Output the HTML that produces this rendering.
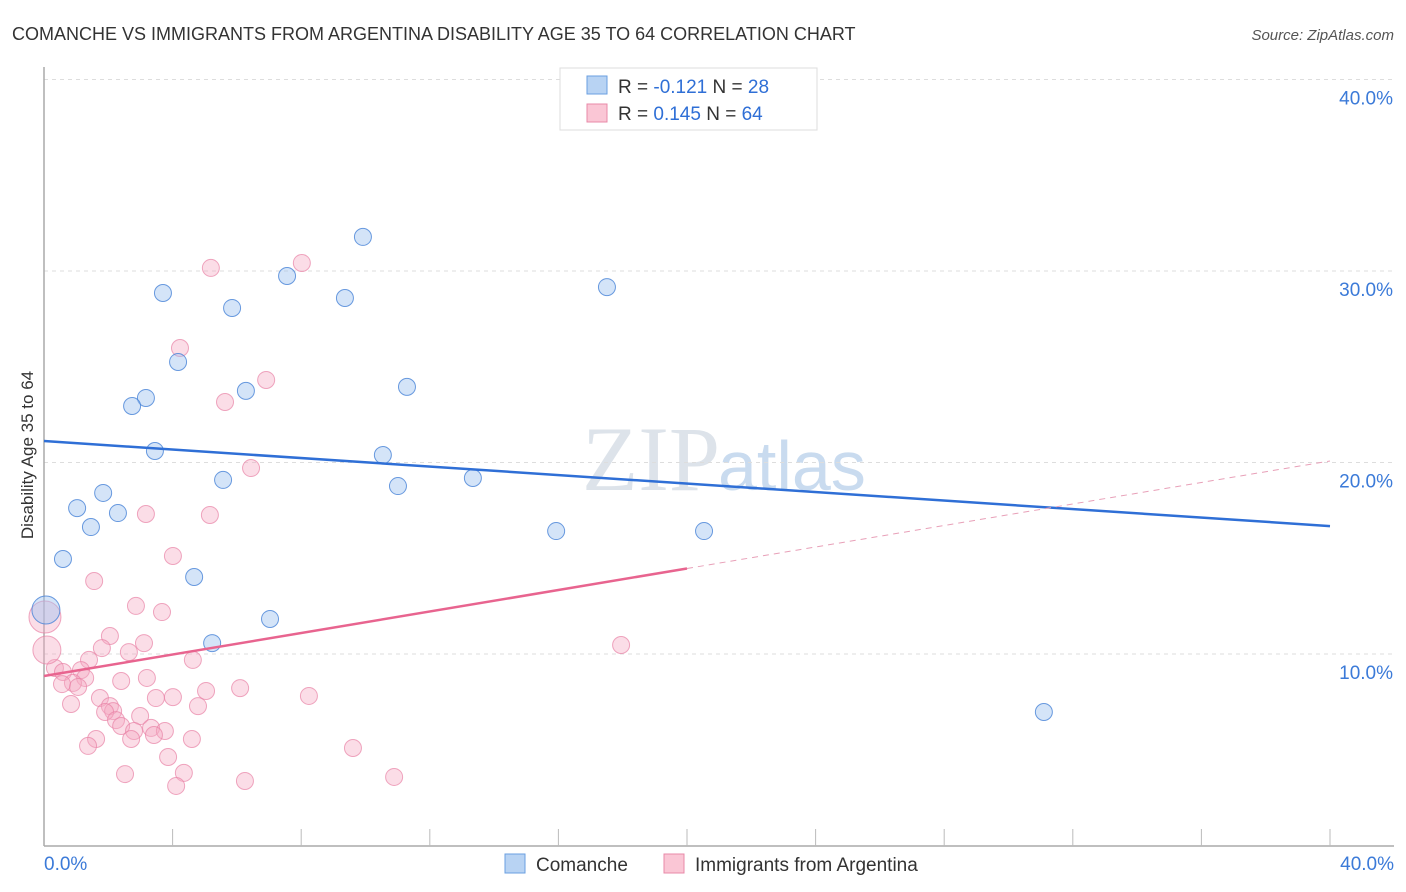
<!DOCTYPE html>
<html><head><meta charset="utf-8"><style>
body{margin:0;background:#fff;font-family:"Liberation Sans",sans-serif}
svg{display:block}
</style></head><body>
<svg id="c" width="1406" height="892" xmlns="http://www.w3.org/2000/svg">
<text x="12" y="40" font-size="18" fill="#333">COMANCHE VS IMMIGRANTS FROM ARGENTINA DISABILITY AGE 35 TO 64 CORRELATION CHART</text>
<text x="1394" y="40" font-size="15" fill="#555" font-style="italic" text-anchor="end">Source: ZipAtlas.com</text>
<text x="720" y="490" font-size="92" fill="#dde3ea" text-anchor="end" font-family="Liberation Serif">ZIP</text>
<text x="718" y="490" font-size="70" fill="#c9dbef">atlas</text>
<text x="33" y="455" font-size="17" fill="#333" text-anchor="middle" transform="rotate(-90 33 455)">Disability Age 35 to 64</text>
<g id="grid"></g><g id="axes"></g><g id="pts"></g><g id="lines"></g>
<g>
<rect x="560" y="68" width="257" height="62" fill="#fff" stroke="#ddd"/>
<rect x="587" y="76" width="20" height="18" fill="#b8d3f3" stroke="#6a9fe0"/>
<rect x="587" y="104" width="20" height="18" fill="#fac6d5" stroke="#e889a8"/>
<text x="618" y="93" font-size="19" fill="#333">R = <tspan fill="#2f6fd6">-0.121</tspan>   N = <tspan fill="#2f6fd6">28</tspan></text>
<text x="618" y="120" font-size="19" fill="#333">R =  <tspan fill="#2f6fd6">0.145</tspan>   N = <tspan fill="#2f6fd6">64</tspan></text>
</g>
<g>
<rect x="505" y="854" width="20" height="19" fill="#b8d3f3" stroke="#6a9fe0"/>
<text x="536" y="871" font-size="19" fill="#333">Comanche</text>
<rect x="664" y="854" width="20" height="19" fill="#fac6d5" stroke="#e889a8"/>
<text x="695" y="871" font-size="19" fill="#333">Immigrants from Argentina</text>
</g>
</svg>
<script>
const blueX=[9.92,17.51,7.56,3.70,9.36,5.85,4.17,6.28,11.29,3.17,2.74,3.45,10.54,5.57,11.01,13.34,1.84,1.03,2.30,1.46,15.93,20.53,0.59,4.67,7.03,5.23,31.10,0.06];
const blueY=[31.78,29.16,29.74,28.85,28.59,28.07,25.25,23.74,23.95,23.37,22.95,20.60,20.39,19.09,18.77,19.19,18.41,17.62,17.36,16.63,16.42,16.42,14.96,14.02,11.83,10.57,6.97,12.30];
const pinkX=[5.19,8.02,4.23,6.91,5.63,6.44,3.17,5.16,4.01,1.56,2.86,3.67,2.05,3.11,1.80,2.64,4.63,1.40,0.34,0.59,1.15,1.28,0.90,0.56,1.06,2.40,3.20,5.04,6.10,8.24,3.48,4.01,1.74,0.84,4.79,2.05,2.15,1.90,2.99,2.24,2.40,3.33,3.76,2.80,3.42,4.60,2.71,1.62,1.37,9.61,3.86,2.52,4.35,6.25,4.11,10.89,17.95,0.09,0.03];
const pinkY=[30.16,30.42,25.98,24.31,23.16,19.71,17.31,17.26,15.12,13.81,12.51,12.19,10.94,10.57,10.31,10.10,9.69,9.69,9.27,9.06,9.16,8.75,8.49,8.43,8.28,8.59,8.75,8.07,8.22,7.81,7.70,7.75,7.70,7.39,7.28,7.28,7.02,6.97,6.76,6.55,6.24,6.14,5.98,5.98,5.77,5.56,5.56,5.56,5.20,5.09,4.62,3.73,3.79,3.37,3.11,3.58,10.47,10.21,11.93];
const blueTrend=[21.12,16.68];
const pinkTrend=[8.85,20.08];
const yTicks=[10,20,30,40];
const NS='http://www.w3.org/2000/svg';
const X=v=>44+v*32.15, Y=v=>845.5-v*19.15;
function mk(p,t,a){const e=document.createElementNS(NS,t);for(const k in a)e.setAttribute(k,a[k]);p.appendChild(e);return e;}
const grid=document.getElementById('grid'),axes=document.getElementById('axes'),pts=document.getElementById('pts'),lines=document.getElementById('lines');
yTicks.forEach(t=>{
 const l=mk(grid,'line',{x1:44,x2:1394,y1:Y(t),y2:Y(t),stroke:'#ddd','stroke-dasharray':'4 4'});
 
 
 const tx=mk(grid,'text',{x:1393,y:Y(t)+25,'font-size':19,fill:'#3b7ad8','text-anchor':'end'});
 tx.textContent=t.toFixed(1)+'%';
 
 
});
mk(axes,'line',{x1:44,x2:44,y1:67,y2:846,stroke:'#aaa','stroke-width':1.5});
mk(axes,'line',{x1:44,x2:1394,y1:846,y2:846,stroke:'#aaa','stroke-width':1.5});
for(let i=1;i<=10;i++){mk(axes,'line',{x1:X(i*4),x2:X(i*4),y1:829,y2:846,stroke:'#bbb'});}
let t0=mk(axes,'text',{x:44,y:870,'font-size':19,fill:'#3b7ad8'});t0.textContent='0.0%';


let t1=mk(axes,'text',{x:1394,y:870,'font-size':19,fill:'#3b7ad8','text-anchor':'end'});t1.textContent='40.0%';


pinkX.forEach((v,i)=>{
 const big=i>=pinkX.length-2;
 const c=mk(pts,'circle',{cx:X(v),cy:Y(pinkY[i]),r:big?(i==pinkX.length-1?16:14):8.5,fill:'rgba(246,170,195,0.4)',stroke:'rgba(232,130,165,0.7)','stroke-width':1});
 
 
});
blueX.forEach((v,i)=>{
 const big=i==blueX.length-1;
 const c=mk(pts,'circle',{cx:X(v),cy:Y(blueY[i]),r:big?14:8.5,fill:'rgba(160,196,240,0.45)',stroke:'rgba(70,130,215,0.8)','stroke-width':1});
 
 
});
const bl=mk(lines,'line',{x1:X(0),y1:Y(blueTrend[0]),x2:X(40),y2:Y(blueTrend[1]),stroke:'#2f6fd6','stroke-width':2.5});


const pm=pinkTrend[0]+(pinkTrend[1]-pinkTrend[0])*0.5;
const pl=mk(lines,'line',{x1:X(0),y1:Y(pinkTrend[0]),x2:X(20),y2:Y(pm),stroke:'#e8648f','stroke-width':2.5});


const pd=mk(lines,'line',{x1:X(20),y1:Y(pm),x2:X(40),y2:Y(pinkTrend[1]),stroke:'#e8a0b8','stroke-width':1,'stroke-dasharray':'6 5'});


</script>
</body></html>
